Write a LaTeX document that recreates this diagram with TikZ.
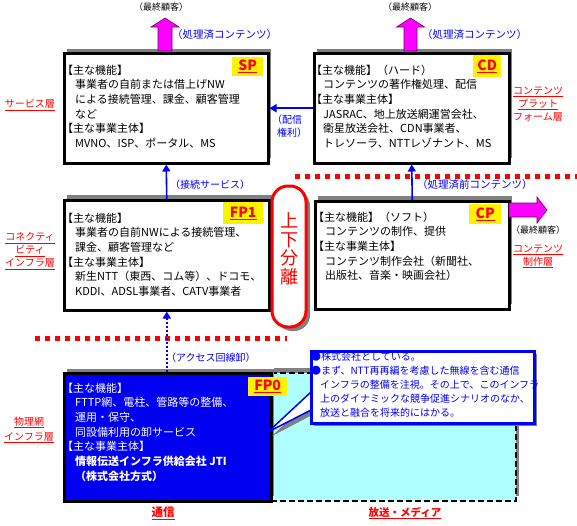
\documentclass[tikz,border=0pt]{standalone}
\usepackage{fontspec}
\setmainfont{Noto Sans CJK JP}
\usetikzlibrary{arrows.meta}
\definecolor{shgray}{RGB}{128,128,128}
\definecolor{fpblue}{RGB}{0,0,240}
\definecolor{lcyan}{RGB}{176,255,255}
\definecolor{lblue}{RGB}{0,0,255}
\definecolor{mag}{RGB}{255,0,255}
\definecolor{magedge}{RGB}{110,0,110}
\newcommand\fsz[2]{\fontsize{#1}{#2}\selectfont}
\begin{document}
\begin{tikzpicture}[x=1pt,y=-1pt,
  box/.style={draw=black,line width=2.5pt,fill=white,anchor=north west,inner sep=0pt},
  body/.style={anchor=north west,inner sep=0pt,align=left,font=\fsz{11}{14.7}},
  tagbox/.style={fill=yellow,text=red,font=\fsz{14}{14}\bfseries,inner sep=0pt,anchor=north west},
  layer/.style={text=red,font=\fsz{10}{13},align=center,inner sep=0pt},
  bluelbl/.style={text=lblue,font=\fsz{10.5}{13},anchor=west,inner sep=0pt,align=left},
  cust/.style={font=\fsz{9}{10},inner sep=0pt},
  conn/.style={draw=lblue,line width=1.6pt,-{Triangle[length=7pt,width=8pt]}},
  bigarrow/.style={fill=mag,draw=magedge,line width=0.6pt},
  sepline/.style={draw=red,line width=5pt,dash pattern=on 5pt off 5pt},
  shade/.style={fill=shgray,draw=none}
]
\useasboundingbox (0,0) rectangle (577,525);

% separators
\draw[sepline] (295,176) -- (577,176);
\draw[sepline] (35,338) -- (287,338);

% shadows of upper boxes
\fill[shade] (67,49) rectangle (271,158);
\fill[shade] (317,49) rectangle (512,158);
\fill[shade] (67,195) rectangle (272,305);
\fill[shade] (318,196) rectangle (512,304);

% boxes
\node[box,minimum width=204pt,minimum height=110pt] (sp) at (63,52) {};
\node[box,minimum width=195pt,minimum height=110pt] (cd) at (313,52) {};
\node[box,minimum width=205pt,minimum height=110pt] (fp1) at (63,199) {};
\node[box,minimum width=194pt,minimum height=108pt] (cp) at (314,200) {};

% big arrows
\draw[bigarrow] (158,51) -- (158,27) -- (151,27) -- (165,18) -- (179,27) -- (172,27) -- (172,51) -- cycle;
\draw[bigarrow] (404,51) -- (404,27) -- (396.5,27) -- (410.5,18) -- (424.5,27) -- (417,27) -- (417,51) -- cycle;
\draw[bigarrow] (509,203) -- (537,203) -- (537,197) -- (547,210) -- (537,223) -- (537,217) -- (509,217) -- cycle;

% texts in boxes
\node[body] (sptext) at (62,64.5) {【主な機能】\\\hspace*{13pt}事業者の自前または借上げNW\\\hspace*{13pt}による接続管理、課金、顧客管理\\\hspace*{13pt}など\\【主な事業主体】\\\hspace*{13pt}MVNO、ISP、ポータル、MS};
\node[body] (cdtext) at (311,64.5) {【主な機能】（ハード）\\\hspace*{12pt}コンテンツの著作権処理、配信\\【主な事業主体】\\\hspace*{12pt}JASRAC、地上放送網運営会社、\\\hspace*{12pt}衛星放送会社、CDN事業者、\\\hspace*{12pt}トレソーラ、NTTレゾナント、MS};
\node[body] (fp1text) at (62,212.5) {【主な機能】\\\hspace*{13pt}事業者の自前NWによる接続管理、\\\hspace*{13pt}課金、顧客管理など\\【主な事業主体】\\\hspace*{13pt}新生NTT（東西、コム等）、ドコモ、\\\hspace*{13pt}KDDI、ADSL事業者、CATV事業者};
\node[body] (cptext) at (313,211.5) {【主な機能】（ソフト）\\\hspace*{12pt}コンテンツの制作、提供\\【主な事業主体】\\\hspace*{12pt}コンテンツ制作会社（新聞社、\\\hspace*{12pt}出版社、音楽・映画会社）};

% tags
\node[tagbox,minimum width=31pt,minimum height=19pt] (sptag) at (232,57) {\underline{SP}};
\node[tagbox,minimum width=28pt,minimum height=22pt] (cdtag) at (473,55) {\underline{CD}};
\node[tagbox,minimum width=40pt,minimum height=22pt] (fp1tag) at (223,202) {\underline{FP1}};
\node[tagbox,minimum width=32pt,minimum height=20pt] (cptag) at (469,204) {\underline{CP}};

% split
\fill[shade,rounded corners=16pt] (276,190) rectangle (310,331);
\node[draw=red,line width=3pt,fill=white,rounded corners=16pt,minimum width=34pt,minimum height=141pt,inner sep=0pt] (split) at (289,256.5) {};
\node[text=red,font=\fsz{18}{18.5},align=center,inner sep=0pt] (splittext) at (289,249) {上\\下\\分\\離};

% lower media region
\fill[shade] (274,368) rectangle (519,496);
\node[draw=black,line width=2pt,dash pattern=on 6pt off 3pt,fill=lcyan,anchor=north west,minimum width=245pt,minimum height=128pt,inner sep=0pt] (media) at (270,372) {};
\fill[shade] (67,369) rectangle (274,496);
\node[box,fill=fpblue,minimum width=207pt,minimum height=128pt] (fp0) at (63,372) {};
\node[body,text=white] (fp0text) at (62,382.5) {【主な機能】\\\hspace*{13pt}FTTP網、電柱、管路等の整備、\\\hspace*{13pt}運用・保守、\\\hspace*{13pt}同設備利用の卸サービス\\【主な事業主体】\\\hspace*{13pt}\textbf{情報伝送インフラ供給会社 JTI}\\\hspace*{13pt}\textbf{（株式会社方式）}};
\node[tagbox,minimum width=39pt,minimum height=19pt] (fp0tag) at (248,377) {\underline{FP0}};

% callout
\fill[shade] (314,396) -- (272,436) -- (314,414) -- cycle;
\fill[shade] (314,354) rectangle (537,426);
\fill[white] (311,392) -- (268,432) -- (311,410) -- cycle;
\draw[lblue,line width=1.5pt] (311,392) -- (268,432) -- (311,410);
\node[draw=lblue,line width=2.5pt,fill=white,anchor=north west,minimum width=223pt,minimum height=72pt,inner sep=0pt] (note) at (310,350) {};
\node[anchor=north west,inner sep=0pt,align=left,text=lblue,font=\fsz{10}{14}] (notetext) at (311,352) {●株式会社としている。\\●まず、NTT再再編を考慮した無線を含む通信\\\hspace*{9pt}インフラの整備を注視。その上で、このインフラ\\\hspace*{9pt}上のダイナミックな競争促進シナリオのなか、\\\hspace*{9pt}放送と融合を将来的にはかる。};

% connectors
\draw[conn] (fp1.north) -- (sp.south);
\draw[conn] (cp.north) -- (cd.south);
\draw[conn] (cd.west) -- (sp.east);
\draw[conn,dash pattern=on 2pt off 2pt] (fp0.north -| fp1.south) -- (fp1.south);

% blue labels
\node[bluelbl] (lbl1) at (172,35) {（処理済コンテンツ）};
\node[bluelbl] (lbl2) at (422,35) {（処理済コンテンツ）};
\node[bluelbl,anchor=north west,font=\fsz{10}{13}] (lbl3) at (272,115) {（配信\\\hspace*{5pt}権利）};
\node[bluelbl,font=\fsz{10}{13}] (lbl4) at (170,185) {（接続サービス）};
\node[bluelbl] (lbl5) at (417,185) {（処理済前コンテンツ）};
\node[bluelbl,font=\fsz{10}{13}] (lbl6) at (166,358) {（アクセス回線卸）};

% customers
\node[cust] (cust1) at (161,7) {（最終顧客）};
\node[cust] (cust2) at (410,7) {（最終顧客）};
\node[cust] (cust3) at (538,230) {（最終顧客）};

% layer labels
\node[layer] (lsvc) at (30,105) {\underline{サービス層}};
\node[layer] (lconn) at (30,251) {\underline{コネクティ}\\\underline{ビティ}\\\underline{インフラ層}};
\node[layer,font=\fsz{10}{15}] (lphys) at (29,430) {\underline{物理網}\\\underline{インフラ層}};
\node[layer] (lplat) at (538,104) {\underline{コンテンツ}\\\underline{プラット}\\フォーム層};
\node[layer] (lprod) at (538,256.5) {\underline{コンテンツ}\\\underline{制作層}};
\node[layer,font=\fsz{11.5}{12}\bfseries] (ltel) at (163,513) {\underline{通信}};
\node[layer,font=\fsz{10.5}{12}\bfseries] (lmedia) at (405,513) {\underline{放送・メディア}};
\end{tikzpicture}
\end{document}
